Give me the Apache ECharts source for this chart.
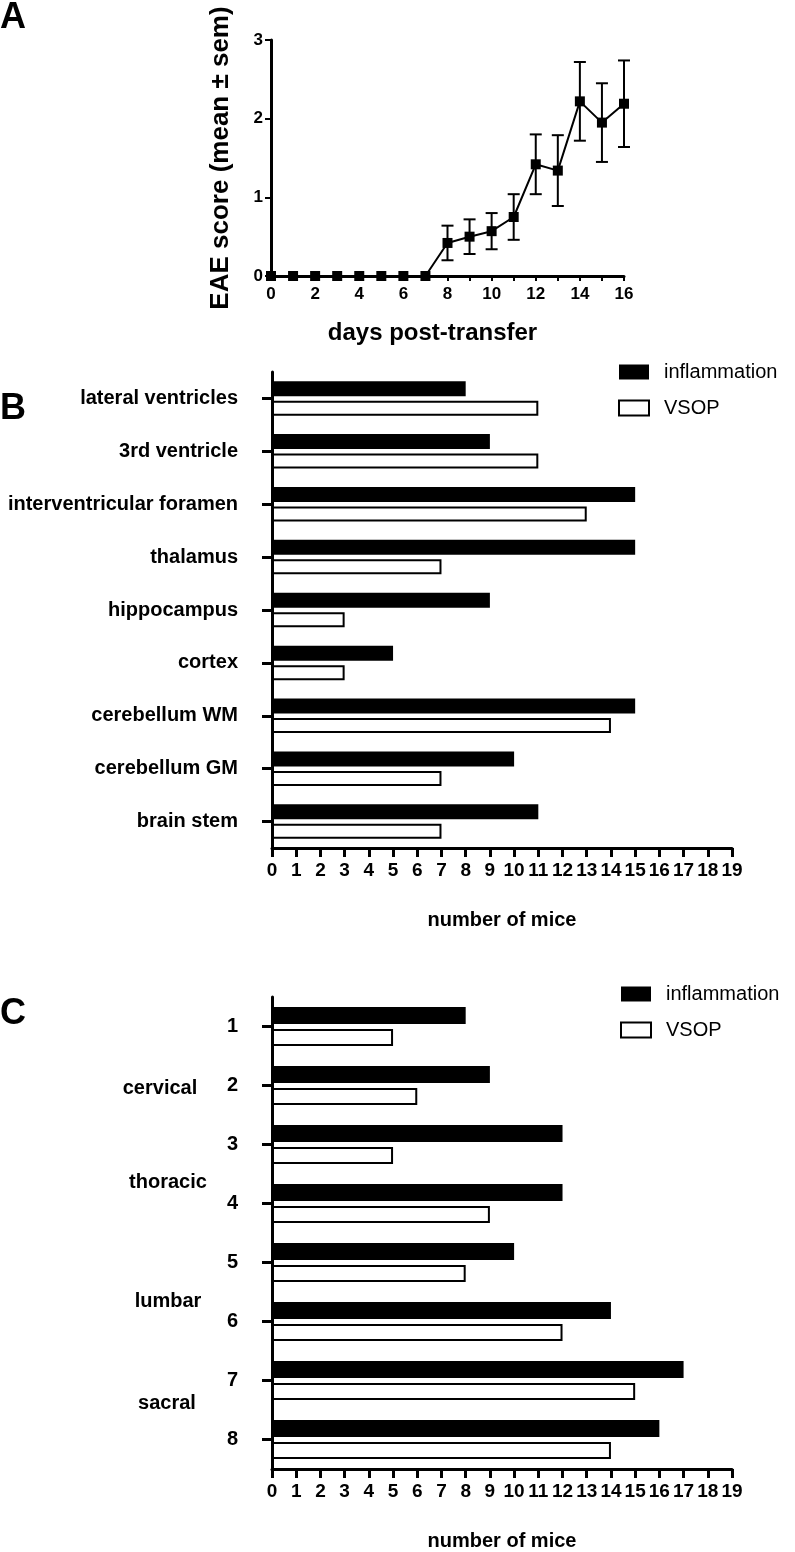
<!DOCTYPE html>
<html><head><meta charset="utf-8">
<script src="https://cdn.jsdelivr.net/npm/echarts@6/dist/echarts.min.js"></script>
<style>html,body{margin:0;padding:0;background:#fff}#c{width:795px;height:1552px}</style>
</head><body><div id="c"></div>
<script>
// ---- Panel A data ----
const days = [0,1,2,3,4,5,6,7,8,9,10,11,12,13,14,15,16];
const eaeMean = [0,0,0,0,0,0,0,0,0.42,0.50,0.57,0.75,1.42,1.34,2.22,1.95,2.19];
const eaeSem  = [0,0,0,0,0,0,0,0,0.22,0.22,0.23,0.29,0.38,0.45,0.50,0.50,0.55];
// ---- Panel B data ----
const brainRegions = ['lateral ventricles','3rd ventricle','interventricular foramen','thalamus','hippocampus','cortex','cerebellum WM','cerebellum GM','brain stem'];
const brainInflammation = [8,9,15,15,9,5,15,10,11];
const brainVSOP = [11,11,13,7,3,3,14,7,7];
// ---- Panel C data ----
const spinalLevels = ['1','2','3','4','5','6','7','8'];
const spinalInflammation = [8,9,12,12,10,14,17,16];
const spinalVSOP = [5,6,5,9,8,12,15,14];
const spinalGroups = ['cervical','thoracic','lumbar','sacral'];
const seriesNames = ['inflammation','VSOP'];

const FF = '"Liberation Sans", Arial, sans-serif';
const FN = '"Liberation Sans Narrow", "Arial Narrow", "Liberation Sans", Arial, sans-serif';
const black = '#000';

const chart = echarts.init(document.getElementById('c'), null, {renderer:'canvas'});

function countAxisX(gi){
  return {
    gridIndex: gi, type:'value', min:0, max:19, interval:1,
    axisLine:{show:true, lineStyle:{color:black, width:3}},
    axisTick:{show:true, length:9, lineStyle:{color:black, width:3}},
    splitLine:{show:false},
    axisLabel:{color:black, fontFamily:FN, fontWeight:'bold', fontSize:19, margin:13},
    name:'number of mice', nameLocation:'middle', nameGap: 62,
    nameTextStyle:{color:black, fontFamily:FF, fontWeight:'bold', fontSize:20}
  };
}
function catAxisY(gi, cats){
  return {
    gridIndex: gi, type:'category', data:cats, inverse:true,
    axisLine:{show:true, lineStyle:{color:black, width:3}},
    axisTick:{show:true, alignWithLabel:true, length:10, lineStyle:{color:black, width:3}},
    axisLabel:{color:black, fontFamily:FF, fontWeight:'bold', fontSize:20, margin:34},
    splitLine:{show:false}
  };
}
function barSeries(gi, data, filled, bw){
  return {
    type:'bar', name: filled ? seriesNames[0] : seriesNames[1],
    xAxisIndex:gi, yAxisIndex:gi, data:data, barWidth:bw, barGap:'30%',
    itemStyle: filled ? {color:black, borderColor:black, borderWidth:0}
                      : {color:'#fff', borderColor:black, borderWidth:2},
    emphasis:{disabled:true}, animation:false
  };
}
function legendAt(left, top){
  return {
    left:left, top:top, orient:'vertical', padding:0, itemWidth:30, itemHeight:15, itemGap:16,
    icon:'rect', data:seriesNames, selectedMode:false,
    textStyle:{color:black, fontFamily:FF, fontSize:20, padding:[0,0,0,10]}
  };
}

const groupLabelPos = [[160,1088],[168,1182],[168,1301],[167,1403]];

const option = {
  animation:false,
  backgroundColor:'#fff',
  grid:[
    {left:271, top:40, width:353, height:236},
    {left:272, top:372, width:460, height:476},
    {left:272, top:997, width:460, height:476}
  ],
  xAxis:[
    {
      gridIndex:0, type:'value', min:0, max:16, interval:1,
      axisLine:{show:true, lineStyle:{color:black, width:3}},
      axisTick:{show:true, length:5, lineStyle:{color:black, width:2}},
      splitLine:{show:false},
      axisLabel:{color:black, fontFamily:FF, fontWeight:'bold', fontSize:17, margin:10,
        formatter: v => (v % 2 === 0 ? String(v) : '')},
      name:'days post-transfer', nameLocation:'middle', nameGap:45,
      nameTextStyle:{color:black, fontFamily:FF, fontWeight:'bold', fontSize:24, padding:[0,30,0,0]}
    },
    countAxisX(1), countAxisX(2)
  ],
  yAxis:[
    {
      gridIndex:0, type:'value', min:0, max:3, interval:1,
      axisLine:{show:true, lineStyle:{color:black, width:3}},
      axisTick:{show:true, length:6, lineStyle:{color:black, width:2}},
      splitLine:{show:false},
      axisLabel:{color:black, fontFamily:FF, fontWeight:'bold', fontSize:17, margin:8},
      name:'EAE score (mean \u00b1 sem)', nameLocation:'middle', nameRotate:90, nameGap:37,
      nameTextStyle:{color:black, fontFamily:FF, fontWeight:'bold', fontSize:26}
    },
    catAxisY(1, brainRegions), catAxisY(2, spinalLevels)
  ],
  legend:[legendAt(618, 362), legendAt(620, 984)],
  series:[
    {
      type:'custom', xAxisIndex:0, yAxisIndex:0, silent:true,
      data: days.map((d,i)=>[d, eaeMean[i], eaeSem[i]]),
      encode:{x:0, y:1},
      renderItem:function(params, api){
        const x = api.value(0), m = api.value(1), s = api.value(2);
        if (!s) return null;
        const t = api.coord([x, m + s]), b = api.coord([x, m - s]);
        const hw = 6;
        const st = {stroke:black, lineWidth:2};
        return {type:'group', children:[
          {type:'line', shape:{x1:t[0], y1:t[1], x2:b[0], y2:b[1]}, style:st},
          {type:'line', shape:{x1:t[0]-hw, y1:t[1], x2:t[0]+hw, y2:t[1]}, style:st},
          {type:'line', shape:{x1:b[0]-hw, y1:b[1], x2:b[0]+hw, y2:b[1]}, style:st}
        ]};
      }
    },
    {
      type:'line', xAxisIndex:0, yAxisIndex:0,
      data: days.map((d,i)=>[d, eaeMean[i]]),
      symbol:'rect', symbolSize:10, showSymbol:true,
      lineStyle:{color:black, width:2}, itemStyle:{color:black},
      emphasis:{disabled:true}, silent:true
    },
    barSeries(1, brainInflammation, true, 15),
    barSeries(1, brainVSOP, false, 15),
    barSeries(2, spinalInflammation, true, 17),
    barSeries(2, spinalVSOP, false, 17)
  ],
  graphic:[
    {type:'text', left:0, top:0, style:{text:'A', font:'bold 36px ' + FF, fill:black}},
    {type:'text', left:0, top:391, style:{text:'B', font:'bold 36px ' + FF, fill:black}},
    {type:'text', left:0, top:996, style:{text:'C', font:'bold 36px ' + FF, fill:black}}
  ].concat(spinalGroups.map((g,i)=>({
    type:'text', x:groupLabelPos[i][0], y:groupLabelPos[i][1],
    style:{text:g, font:'bold 20px ' + FF, fill:black, textAlign:'center', textVerticalAlign:'middle'}
  })))
};
chart.setOption(option);
</script>
</body></html>
